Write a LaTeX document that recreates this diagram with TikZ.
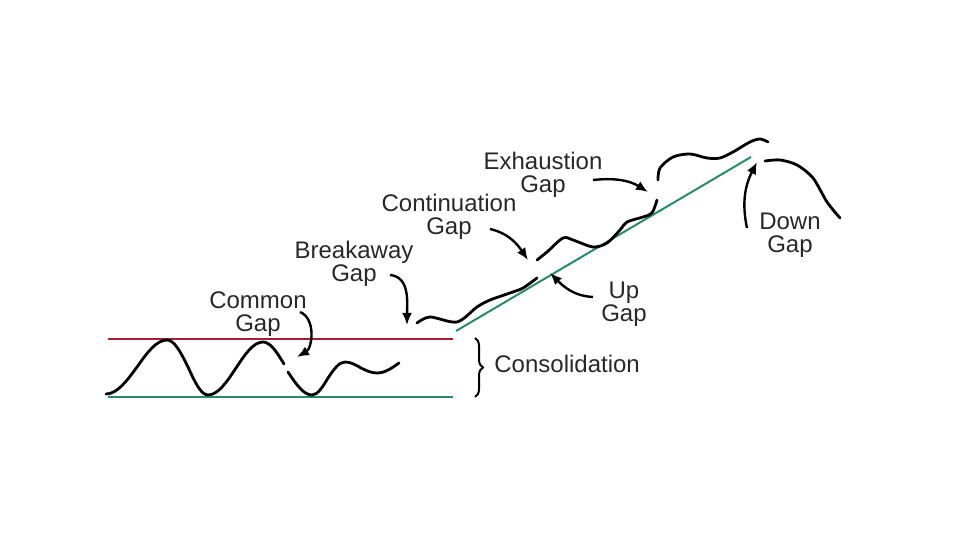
\documentclass[tikz,border=0pt]{standalone}
\usepackage{fontspec}
\setmainfont{Liberation Sans}
\usetikzlibrary{arrows.meta,decorations.pathreplacing}
\definecolor{resistline}{RGB}{165,30,50}
\definecolor{trendline}{RGB}{40,140,100}
\definecolor{labelgray}{RGB}{40,40,40}

\begin{document}
\begin{tikzpicture}
  [x=.5pt,y=.5pt,every node/.style={align=center,inner sep=0pt,text=labelgray,font=\fontsize{12}{11.5}\selectfont},
   price/.style={line width=1.4pt,line join=round,line cap=round},
   gaparrow/.style={line width=1.2pt,-{Latex[length=6pt,width=5pt]}}]
  \useasboundingbox (0,0) rectangle (960,540);

  % support, resistance and trend
  \draw[resistline,line width=1pt] (108,201) -- (453,201);
  \draw[trendline,line width=1pt] (108,143) -- (453,143);
  \draw[trendline,line width=1pt] (456,209) -- (751,383);

  % price
  \draw[price] (106,146) cos (137,173) sin (167,200) cos (188,173) sin (208,145)
    cos (236,172) sin (263,198) cos (284,176);
  \draw[price] (288,168) sin (312,145) cos (328,162) sin (345,178) cos (361,172) sin (377,167) cos (399,177);
  \draw[price] plot[smooth] coordinates {(417,217) (430,223) (457,218) (477,233) (490,240) (510,247) (523,252) (537,262)};
  \draw[price] plot[smooth] coordinates {(537,280) (547,288) (563,302) (573,300) (593,293) (607,297) (620,310) (627,318) (643,323) (652,327) (657,340)};
  \draw[price] plot[smooth] coordinates {(658,360) (660,372) (673,383) (690,386) (707,382) (720,382) (733,388) (750,398) (760,401) (768,398)};
  \draw[price] plot[smooth] coordinates {(765,379) (780,380) (797,375) (813,362) (827,338) (840,322)};

  \node (common) at (258,226) {Common\\Gap};
  \node (breakaway) at (354,276) {Breakaway\\Gap};
  \node (continuation) at (449,323) {Continuation\\Gap};
  \node (exhaustion) at (543,365) {Exhaustion\\Gap};
  \node (up) at (624,236) {Up\\Gap};
  \node (down) at (790,305) {Down\\Gap};
  \node[anchor=base west] (consol) at (494,167) {Consolidation};

  \coordinate (common-t) at (300,228);    \coordinate (common-g) at (297,183);
  \coordinate (breakaway-t) at (390,265); \coordinate (breakaway-g) at (407,215);
  \coordinate (continuation-t) at (490,311); \coordinate (continuation-g) at (528,280);
  \coordinate (up-t) at (593,243);        \coordinate (up-g) at (550,267);
  \coordinate (exhaustion-t) at (593,360); \coordinate (exhaustion-g) at (648,348);
  \coordinate (down-t) at (747,312);      \coordinate (down-g) at (757,378);

  \foreach \from/\to/\o/\i in {common-t/common-g/-22/30,breakaway-t/breakaway-g/-5/90,
      continuation-t/continuation-g/-13/124,up-t/up-g/177/-45,
      exhaustion-t/exhaustion-g/6/148,down-t/down-g/102/-117}
    \draw[gaparrow] (\from) to[out=\o,in=\i] (\to);

  \draw[line width=1pt,decorate,decoration={brace,amplitude=4pt}] (475,202) -- (475,143);

\end{tikzpicture}
\end{document}
